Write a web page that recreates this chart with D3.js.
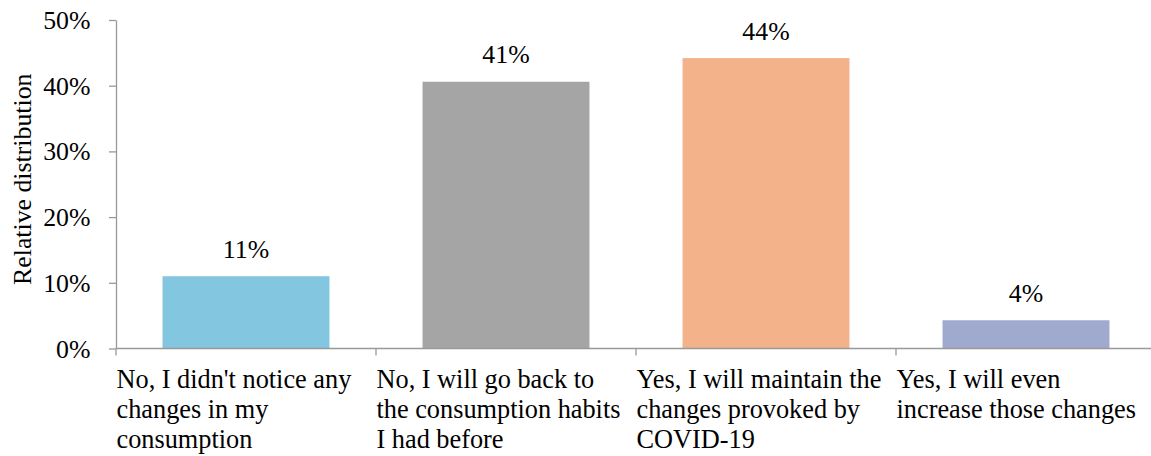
<!DOCTYPE html>
<html>
<head>
<meta charset="utf-8">
<script src="https://cdn.jsdelivr.net/npm/d3@7"></script>
<style>
  body { margin: 0; background: #fff; }
  svg { display: block; }
</style>
</head>
<body>
<svg id="chart" width="1151" height="456"></svg>
<script>
const categories = [
  ["No, I didn't notice any", "changes in my", "consumption"],
  ["No, I will go back to", "the consumption habits", "I had before"],
  ["Yes, I will maintain the", "changes provoked by", "COVID-19"],
  ["Yes, I will even", "increase those changes"]
];
const values = [0.110, 0.406, 0.442, 0.043];
const valueLabels = ["11%", "41%", "44%", "4%"];
const colors = ["#82C6DF", "#A5A5A5", "#F4B28A", "#A0A9CE"];
const yTicks = [0, 0.1, 0.2, 0.3, 0.4, 0.5];

(function () {
const svg = d3.select("#chart");
const mLeft = 116, mRight = 1156, mTop = 20, mBottom = 348.5;
const fs = "25.8px";
const fsCat = "26.3px";
const ff = '"Liberation Serif"';

const idx = d3.range(categories.length);
const xCat = d3.scaleBand().domain(idx).range([mLeft, mRight]).paddingInner(0.358).paddingOuter(0.179);
const xTick = d3.scaleBand().domain(idx).range([mLeft, mRight]);
const y = d3.scaleLinear().domain([0, 0.5]).range([mBottom, mTop]);

function txt(sel, size) {
  return sel.attr("font-family", "Liberation Serif").style("font-family", ff)
    .style("font-size", size || fs).style("fill", "#000");
}

// bars
svg.selectAll("rect.bar").data(values).join("rect")
  .attr("class", "bar")
  .attr("x", (d, i) => xCat(i))
  .attr("width", xCat.bandwidth())
  .attr("y", d => y(d))
  .attr("height", d => y(0) - y(d))
  .attr("fill", (d, i) => colors[i]);

// value labels
svg.selectAll("text.val").data(values).join("text")
  .attr("class", "val")
  .attr("x", (d, i) => xCat(i) + xCat.bandwidth() / 2)
  .attr("y", d => y(d) - 18.5)
  .attr("text-anchor", "middle")
  .call(txt)
  .text((d, i) => valueLabels[i]);

const axisColor = "#999";

// y axis
const yAxis = d3.axisLeft(y).tickValues(yTicks).tickFormat(d3.format(".0%"))
  .tickSize(7).tickSizeOuter(0).tickPadding(18.5);
const gy = svg.append("g").attr("transform", `translate(${mLeft},0)`).call(yAxis);
gy.attr("font-family", "Liberation Serif");
gy.select(".domain").attr("stroke", axisColor).attr("stroke-width", 1.3);
gy.selectAll(".tick line").attr("stroke", axisColor).attr("stroke-width", 1.3);
gy.selectAll(".tick text").call(txt).attr("dy", "0.33em");

// x axis line
svg.append("line")
  .attr("x1", mLeft).attr("x2", 1151)
  .attr("y1", y(0)).attr("y2", y(0))
  .attr("stroke", axisColor).attr("stroke-width", 1.3);

// x category boundary ticks
const bounds = idx.map(i => xTick(i));
svg.selectAll("line.xt").data(bounds).join("line")
  .attr("class", "xt")
  .attr("x1", d => d).attr("x2", d => d)
  .attr("y1", y(0)).attr("y2", y(0) + 7)
  .attr("stroke", axisColor).attr("stroke-width", 1.3);

// category labels
const cl = svg.selectAll("text.cat").data(categories).join("text")
  .attr("class", "cat")
  .call(txt, fsCat)
  .attr("x", (d, i) => xTick(i) + 0.5)
  .attr("y", 388);
cl.selectAll("tspan").data(d => d).join("tspan")
  .attr("x", function () { return d3.select(this.parentNode).attr("x"); })
  .attr("dy", (d, j) => j === 0 ? 0 : 30)
  .text(d => d);

// y title
svg.append("text")
  .attr("transform", `translate(31, ${(mTop + mBottom) / 2 - 5}) rotate(-90)`)
  .attr("text-anchor", "middle")
  .call(txt)
  .text("Relative distribution");
})();
</script>
</body>
</html>
